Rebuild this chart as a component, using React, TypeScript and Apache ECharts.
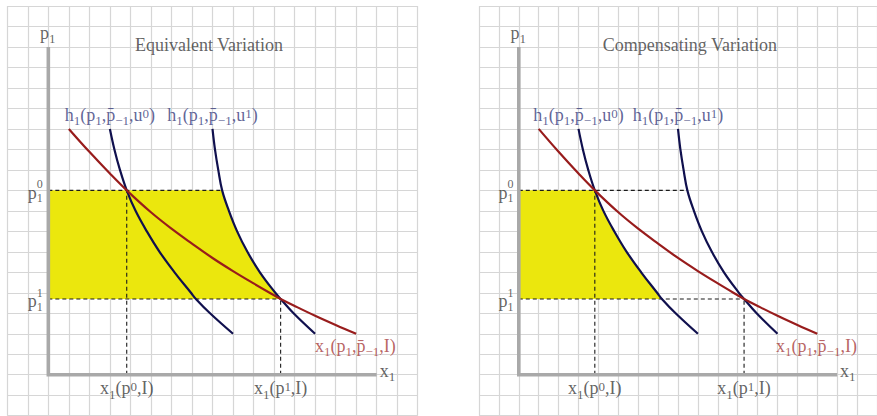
import { useEffect, useRef } from "react";
import * as echarts from "echarts";

const FONT = "'Liberation Serif', 'DejaVu Serif', serif";

// Price levels and the quantities demanded at them
const P0 = 9;
const P1 = 3.7;
const X0 = 3.82;
const X1 = 11.32;
const AXIS_END = 16;

// Marshallian demand x1(p1, p̄-1, I)
const demandX = [1, 2, 3, 3.82, 5, 6, 7, 8, 9, 10, 11, 11.32, 12, 13, 14, 15];
const demandP = [12, 10.88, 9.82, 9, 7.93, 7.13, 6.4, 5.7, 5.06, 4.46, 3.88, 3.7, 3.36, 2.88, 2.43, 2];

// Hicksian demands at utility u0 and u1
const hicksP = [12, 11, 10, 9, 8, 7, 6, 5, 4, 3.7, 3, 2];
const hicks0X = [3.0, 3.22, 3.49, 3.82, 4.25, 4.8, 5.42, 6.15, 6.95, 7.19, 7.88, 9.0];
const hicks1X = [8.0, 8.12, 8.28, 8.47, 8.8, 9.2, 9.7, 10.31, 11.06, 11.32, 11.95, 13.0];

const panelTitles = ["Equivalent Variation", "Compensating Variation"];
// which Hicksian curve bounds the shaded welfare area in each panel
const panelArea = [hicks1X, hicks0X];

const GRID_COLOR = "#d6d6d6";
const AXIS_COLOR = "#a9a9a9";
const YELLOW = "#ebe70d";
const NAVY = "#10104e";
const DARK_RED = "#981c1c";
const TEXT = "#3a3a3a";
const BLUE_TEXT = "#383c7c";
const RED_TEXT = "#a63a3a";

const zip = (xs: number[], ys: number[]) => xs.map((x, i) => [x, ys[i]]);

function richStyles(color: string) {
  const base = { fontFamily: FONT, color };
  return {
    m: { ...base, fontSize: 18 },
    s: { ...base, fontSize: 13, padding: [11.4, 0, 0, 0] },
    t: { ...base, fontSize: 13, padding: [0, 0, 3, 0] },
    a: { ...base, fontSize: 12, padding: [0, 0, 16.4, 0] },
    b: { ...base, fontSize: 12, padding: [10.6, 0, 0, -6] },
  };
}

type Lbl = { at: number[]; text: string; color: string };

const labels: Lbl[] = [
  { at: [-0.03, 16.7], text: "{m|p}{s|1}", color: TEXT },
  { at: [16.53, 0.18], text: "{m|x}{s|1}", color: TEXT },
  { at: [-0.64, 8.89], text: "{m|p}{a|0}{b|1}", color: TEXT },
  { at: [-0.64, 3.58], text: "{m|p}{a|1}{b|1}", color: TEXT },
  { at: [X0, -0.67], text: "{m|x}{s|1}{m|(p}{t|0}{m|,I)}", color: TEXT },
  { at: [X1, -0.67], text: "{m|x}{s|1}{m|(p}{t|1}{m|,I)}", color: TEXT },
  { at: [3.0, 12.7], text: "{m|h}{s|1}{m|(p}{s|1}{m|,p\u0304}{s|\u22121}{m|,u}{t|0}{m|)}", color: BLUE_TEXT },
  { at: [8.0, 12.7], text: "{m|h}{s|1}{m|(p}{s|1}{m|,p\u0304}{s|\u22121}{m|,u}{t|1}{m|)}", color: BLUE_TEXT },
  { at: [14.96, 1.4], text: "{m|x}{s|1}{m|(p}{s|1}{m|,p\u0304}{s|\u22121}{m|,I)}", color: RED_TEXT },
];

function panelSeries(i: number): any[] {
  const axes = { xAxisIndex: i, yAxisIndex: i };
  const areaX = panelArea[i];
  const areaPts: number[][] = [[0, P1], [0, P0]];
  hicksP.forEach((p, k) => {
    if (p <= P0 && p >= P1) areaPts.push([areaX[k], p]);
  });
  const p0End = hicks1X[hicksP.indexOf(P0)];

  const dashed = (data: number[][]) => ({
    type: "line",
    ...axes,
    data,
    symbol: "none",
    silent: true,
    z: 3,
    lineStyle: { color: "#1a1a1a", width: 1.1, type: [4, 3] },
  });
  const curve = (data: number[][], color: string) => ({
    type: "line",
    ...axes,
    data,
    symbol: "none",
    smooth: 0.4,
    silent: true,
    z: 4,
    lineStyle: { color, width: 2.2 },
  });

  return [
    {
      type: "custom",
      ...axes,
      data: [[0, P1]],
      silent: true,
      z: 2,
      renderItem: (_p: any, api: any) => ({
        type: "polygon",
        shape: { points: areaPts.map((pt) => api.coord(pt)) },
        style: { fill: YELLOW },
      }),
    },
    dashed([[0, P0], [p0End, P0]]),
    dashed([[0, P1], [X1, P1]]),
    dashed([[X0, 0], [X0, P0]]),
    dashed([[X1, 0], [X1, P1]]),
    curve(zip(hicks0X, hicksP), NAVY),
    curve(zip(hicks1X, hicksP), NAVY),
    curve(zip(demandX, demandP), DARK_RED),
    {
      type: "line",
      ...axes,
      data: [[0, AXIS_END], [0, 0], [AXIS_END, 0]],
      symbol: "none",
      silent: true,
      z: 5,
      lineStyle: { color: AXIS_COLOR, width: 3.6, join: "miter", cap: "butt" },
    },
    {
      type: "scatter",
      ...axes,
      symbolSize: 0,
      silent: true,
      z: 6,
      data: [
        {
          value: [4.22, 16.08],
          label: {
            show: true,
            position: "right",
            distance: 0,
            formatter: "{m|" + panelTitles[i] + "}",
            rich: richStyles(TEXT),
          },
        },
        ...labels.map((l) => ({
          value: l.at,
          label: {
            show: true,
            position: "inside",
            formatter: l.text,
            rich: richStyles(l.color),
          },
        })),
      ],
    },
  ];
}

function buildOption(): any {
  const lefts = [7.3, 479];
  const axis = (i: number) => ({
    type: "value",
    gridIndex: i,
    min: -2,
    max: 18,
    interval: 1,
    axisLine: { show: false },
    axisTick: { show: false },
    axisLabel: { show: false },
    splitLine: { show: true, lineStyle: { color: GRID_COLOR, width: 1.2 } },
  });
  return {
    animation: false,
    backgroundColor: "#ffffff",
    textStyle: { fontFamily: FONT },
    grid: lefts.map((left) => ({ left, top: 6, width: 410.4, height: 409.7 })),
    xAxis: [axis(0), axis(1)],
    yAxis: [axis(0), axis(1)],
    series: [...panelSeries(0), ...panelSeries(1)],
  };
}

export default function App() {
  const ref = useRef<HTMLDivElement>(null);
  useEffect(() => {
    const chart = echarts.init(ref.current!, null, { renderer: "svg" });
    chart.setOption(buildOption());
    return () => chart.dispose();
  }, []);
  return (
    <div
      ref={ref}
      style={{ position: "fixed", left: 0, top: 0, width: 877, height: 416 }}
    />
  );
}
